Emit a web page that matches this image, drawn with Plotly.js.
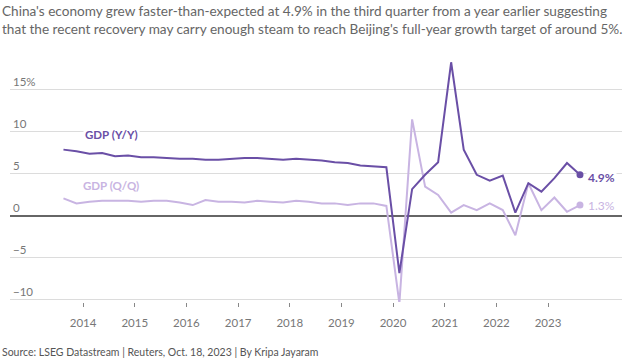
<!DOCTYPE html>
<html>
<head>
<meta charset="utf-8">
<script src="https://cdn.plot.ly/plotly-3.0.1.min.js"></script>
<style>
html,body{margin:0;padding:0;background:#fff;}
#chart{width:627px;height:360px;}
</style>
</head>
<body>
<div id="chart"></div>
<script>
// Quarter mid-points, Q3 2013 .. Q3 2023
const quarters = [
  '2013-08-15','2013-11-15',
  '2014-02-15','2014-05-15','2014-08-15','2014-11-15',
  '2015-02-15','2015-05-15','2015-08-15','2015-11-15',
  '2016-02-15','2016-05-15','2016-08-15','2016-11-15',
  '2017-02-15','2017-05-15','2017-08-15','2017-11-15',
  '2018-02-15','2018-05-15','2018-08-15','2018-11-15',
  '2019-02-15','2019-05-15','2019-08-15','2019-11-15',
  '2020-02-15','2020-05-15','2020-08-15','2020-11-15',
  '2021-02-15','2021-05-15','2021-08-15','2021-11-15',
  '2022-02-15','2022-05-15','2022-08-15','2022-11-15',
  '2023-02-15','2023-05-15','2023-08-15'
];
const gdpYoY = [
  7.9, 7.7,
  7.4, 7.5, 7.1, 7.2,
  7.0, 7.0, 6.9, 6.8,
  6.8, 6.7, 6.7, 6.8,
  6.9, 6.9, 6.8, 6.7,
  6.8, 6.7, 6.6, 6.4,
  6.3, 6.0, 5.9, 5.8,
  -6.8, 3.2, 4.9, 6.4,
  18.3, 7.9, 4.9, 4.2,
  4.8, 0.4, 3.9, 2.9,
  4.5, 6.3, 4.9
];
const gdpQoQ = [
  2.1, 1.5,
  1.7, 1.8, 1.8, 1.8,
  1.7, 1.8, 1.8, 1.6,
  1.3, 1.9, 1.7, 1.7,
  1.6, 1.8, 1.7, 1.6,
  1.8, 1.7, 1.5, 1.5,
  1.3, 1.5, 1.5, 1.2,
  -10.4, 11.5, 3.5, 2.5,
  0.4, 1.3, 0.7, 1.5,
  0.7, -2.3, 3.9, 0.7,
  2.2, 0.5, 1.3
];
const yTickVals = [15, 10, 5, 0, -5, -10];
const yTickText = ['15%', '10', '5', '0', '\u22125', '\u221210'];
const xTickVals = ['2014-01-01','2015-01-01','2016-01-01','2017-01-01','2018-01-01',
                   '2019-01-01','2020-01-01','2021-01-01','2022-01-01','2023-01-01'];
const xTickText = ['2014','2015','2016','2017','2018','2019','2020','2021','2022','2023'];
const titleLines = [
  "China's economy grew faster-than-expected at 4.9% in the third quarter from a year earlier suggesting",
  "that the recent recovery may carry enough steam to reach Beijing's full-year growth target of around 5%."
];
const sourceText = 'Source: LSEG Datastream | Reuters, Oct. 18, 2023 | By Kripa Jayaram';
const seriesNames = ['GDP (Y/Y)', 'GDP (Q/Q)'];

const DARK = '#6a4fa6';
const LIGHT = '#c8b4e2';
const FONT = 'Lato, sans-serif';
const n = quarters.length;

const traces = [
  {x: quarters, y: gdpQoQ, type: 'scatter', mode: 'lines', name: seriesNames[1],
   line: {color: LIGHT, width: 2}, hoverinfo: 'skip'},
  {x: [quarters[n-1]], y: [gdpQoQ[n-1]], type: 'scatter', mode: 'markers',
   marker: {color: LIGHT, size: 7}, hoverinfo: 'skip'},
  {x: quarters, y: gdpYoY, type: 'scatter', mode: 'lines', name: seriesNames[0],
   line: {color: DARK, width: 2}, hoverinfo: 'skip'},
  {x: [quarters[n-1]], y: [gdpYoY[n-1]], type: 'scatter', mode: 'markers',
   marker: {color: DARK, size: 7}, hoverinfo: 'skip'}
];

const annotations = [
  {xref: 'paper', yref: 'paper', x: -0.016, y: 1.195, xanchor: 'left', yanchor: 'top',
   text: titleLines.join('<br>'), align: 'left', showarrow: false,
   font: {family: FONT, size: 13.6, color: '#666'}},
  {xref: 'paper', yref: 'paper', x: -0.016, y: -0.2, xanchor: 'left', yanchor: 'middle',
   text: sourceText, showarrow: false,
   font: {family: FONT, size: 10.5, color: '#555'}},
  {xref: 'x', yref: 'y', x: '2014-07-24', y: gdpYoY[0] + 1.75, text: '<b>' + seriesNames[0] + '</b>',
   showarrow: false, bgcolor: '#fff', borderpad: 1,
   font: {family: FONT, size: 11.5, color: DARK}},
  {xref: 'x', yref: 'y', x: '2014-07-20', y: gdpQoQ[0] + 1.5, text: '<b>' + seriesNames[1] + '</b>',
   showarrow: false, bgcolor: '#fff', borderpad: 1,
   font: {family: FONT, size: 11.5, color: LIGHT}},
  {xref: 'x', yref: 'y', x: quarters[n-1], y: gdpYoY[n-1], xanchor: 'left', xshift: 6, yshift: -3,
   text: '<b>' + gdpYoY[n-1].toFixed(1) + '%</b>', showarrow: false, bgcolor: '#fff',
   font: {family: FONT, size: 12, color: DARK}},
  {xref: 'x', yref: 'y', x: quarters[n-1], y: gdpQoQ[n-1], xanchor: 'left', xshift: 6,
   text: gdpQoQ[n-1].toFixed(1) + '%', showarrow: false,
   font: {family: FONT, size: 12, color: LIGHT}}
];

const layout = {
  width: 627, height: 360,
  margin: {l: 10, r: 5, t: 50, b: 58},
  paper_bgcolor: '#fff', plot_bgcolor: '#fff',
  showlegend: false,
  font: {family: FONT, color: '#777'},
  xaxis: {
    type: 'date',
    range: ['2012-08-02', '2024-06-07'],
    tickvals: xTickVals, ticktext: xTickText,
    ticks: 'outside', ticklen: 4, tickwidth: 1, tickcolor: '#888',
    ticklabelstandoff: 6,
    showgrid: false, zeroline: false, showline: false,
    tickfont: {family: FONT, size: 11.5, color: '#777'}
  },
  yaxis: {
    range: [-10.24, 19.76],
    tickvals: yTickVals, ticktext: yTickText,
    ticklabelposition: 'inside top',
    ticks: '', showline: false,
    gridcolor: '#dcdcdc', gridwidth: 1,
    zeroline: true, zerolinecolor: '#666', zerolinewidth: 1.5,
    tickfont: {family: FONT, size: 11.5, color: '#777'}
  },
  annotations: annotations
};

Plotly.newPlot('chart', traces, layout, {displayModeBar: false, staticPlot: true});
</script>
</body>
</html>
